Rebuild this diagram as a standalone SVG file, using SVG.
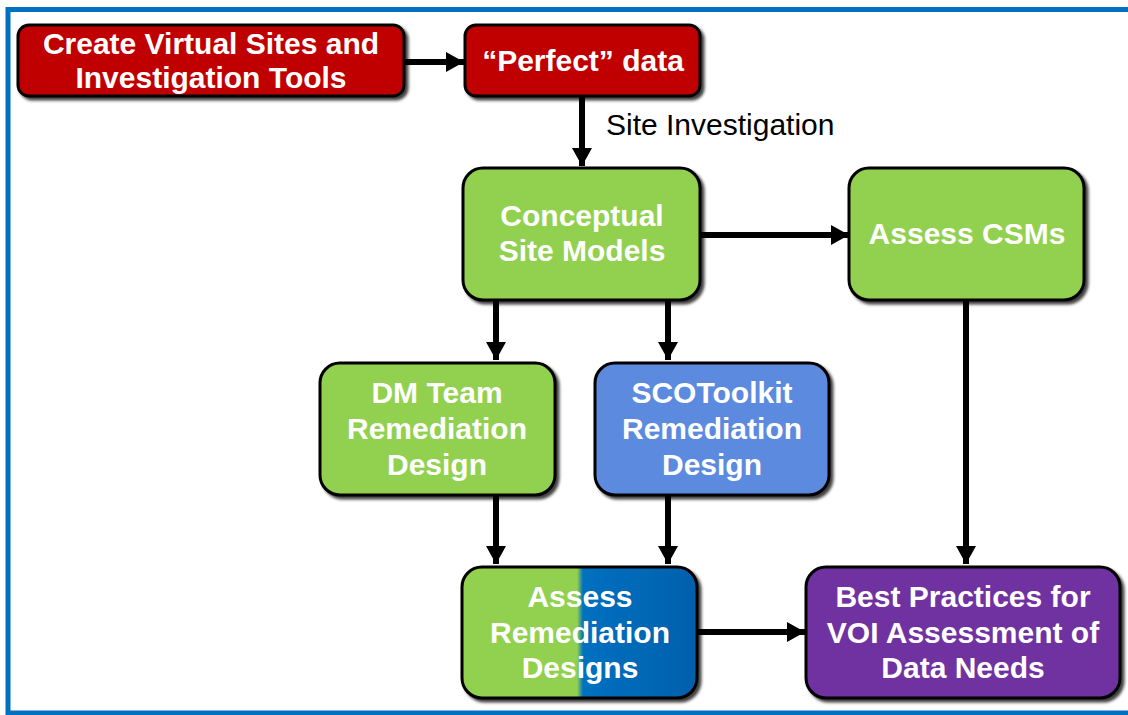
<svg xmlns="http://www.w3.org/2000/svg" width="1128" height="715" viewBox="0 0 1128 715">
<style>
.box{stroke:#000;stroke-width:3;filter:url(#sh)}
.t{font-family:"Liberation Sans",Arial,sans-serif;font-weight:bold;font-size:30px;fill:#fff;text-anchor:middle}
.lbl{font-family:"Liberation Sans",Arial,sans-serif;font-size:30px;fill:#000}
.c{stroke:#000;stroke-width:6;fill:none;marker-end:url(#ah)}
</style>
<defs>
<filter id="sh" x="-10%" y="-10%" width="130%" height="130%">
<feDropShadow dx="3" dy="3" stdDeviation="1.5" flood-color="#000" flood-opacity="0.75"/>
</filter>
<marker id="ah" markerUnits="userSpaceOnUse" markerWidth="19" markerHeight="21" refX="18" refY="10.5" orient="auto">
<path d="M0,0.5 L18,10.5 L0,20.5 z" fill="#000"/>
</marker>
<linearGradient id="split" x1="0" y1="0" x2="1" y2="0">
<stop offset="0" stop-color="#92D050"/>
<stop offset="0.49" stop-color="#92D050"/>
<stop offset="0.515" stop-color="#0070C0"/>
<stop offset="1" stop-color="#0060AC"/>
</linearGradient>
</defs>
<rect x="0" y="0" width="1128" height="715" fill="#fff"/>
<rect x="8" y="9.5" width="1140" height="703.5" fill="none" stroke="#0070C0" stroke-width="5"/>

<g id="connectors">
<line class="c" x1="404" y1="62" x2="464" y2="62"/>
<line class="c" x1="582" y1="97" x2="582" y2="166"/>
<line class="c" x1="700" y1="235" x2="849" y2="235"/>
<line class="c" x1="496" y1="300" x2="496" y2="360"/>
<line class="c" x1="668" y1="300" x2="668" y2="360"/>
<line class="c" x1="496" y1="495" x2="496" y2="564"/>
<line class="c" x1="668" y1="495" x2="668" y2="564"/>
<line class="c" x1="966" y1="300" x2="966" y2="564"/>
<line class="c" x1="697" y1="632" x2="805" y2="632"/>
<text class="lbl" x="606" y="135">Site Investigation</text>
</g>

<g id="create">
<rect class="box" x="18" y="25" width="386" height="71" rx="11" fill="#C00000"/>
<text class="t" x="211" y="54" font-size="29.5">Create Virtual Sites and</text>
<text class="t" x="211" y="88" font-size="29.5">Investigation Tools</text>
</g>
<g id="perfect">
<rect class="box" x="465" y="25" width="235" height="71" rx="11" fill="#C00000"/>
<text class="t" x="583" y="71">“Perfect” data</text>
</g>
<g id="csm">
<rect class="box" x="463" y="168" width="237" height="132" rx="20" fill="#92D050"/>
<text class="t" x="582" y="226">Conceptual</text>
<text class="t" x="582" y="261">Site Models</text>
</g>
<g id="assesscsm">
<rect class="box" x="849" y="168" width="235" height="132" rx="20" fill="#92D050"/>
<text class="t" x="967" y="244">Assess CSMs</text>
</g>
<g id="dm">
<rect class="box" x="320" y="363" width="235" height="132" rx="20" fill="#92D050"/>
<text class="t" x="437" y="403">DM Team</text>
<text class="t" x="437" y="439">Remediation</text>
<text class="t" x="437" y="475">Design</text>
</g>
<g id="sco">
<rect class="box" x="595" y="363" width="234" height="132" rx="20" fill="#5B8ADE"/>
<text class="t" x="712" y="403">SCOToolkit</text>
<text class="t" x="712" y="439">Remediation</text>
<text class="t" x="712" y="475">Design</text>
</g>
<g id="assessrem">
<rect class="box" x="462" y="567" width="235" height="131" rx="20" fill="url(#split)"/>
<text class="t" x="580" y="607">Assess</text>
<text class="t" x="580" y="643">Remediation</text>
<text class="t" x="580" y="678">Designs</text>
</g>
<g id="best">
<rect class="box" x="806" y="567" width="314" height="131" rx="20" fill="#7030A0"/>
<text class="t" x="963" y="607">Best Practices for</text>
<text class="t" x="963" y="643">VOI Assessment of</text>
<text class="t" x="963" y="678">Data Needs</text>
</g>
</svg>
